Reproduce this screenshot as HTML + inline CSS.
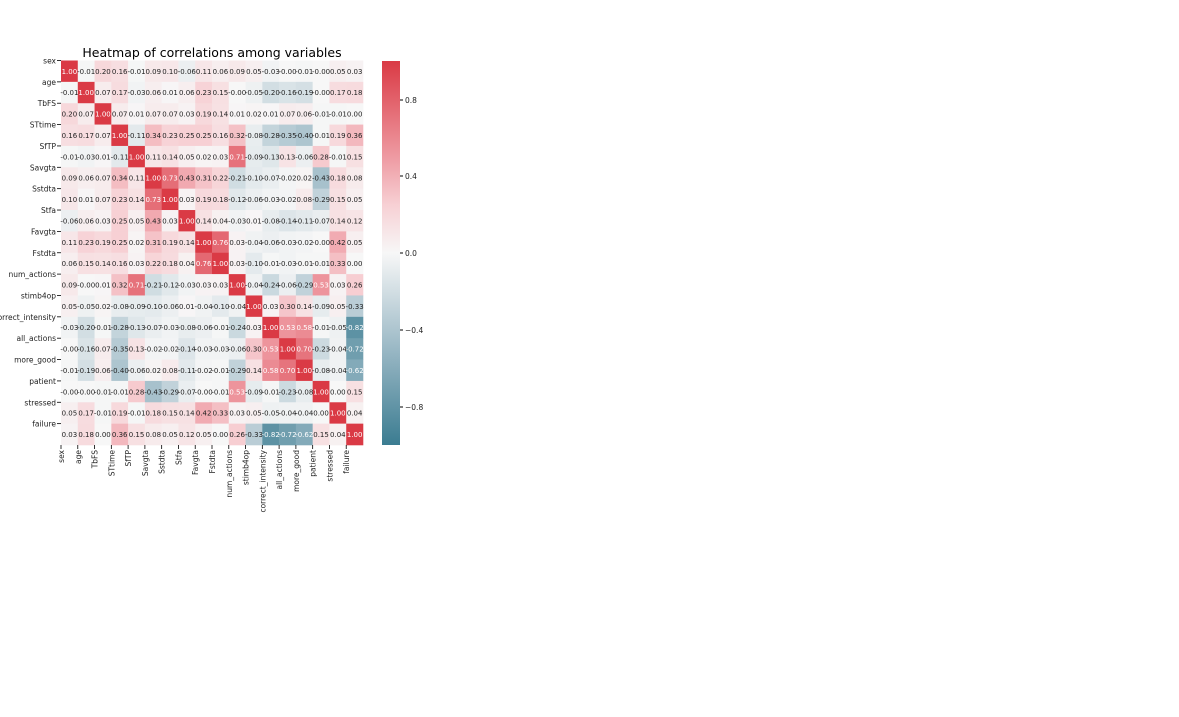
<!DOCTYPE html>
<html><head><meta charset="utf-8"><style>
html,body{margin:0;padding:0;background:#fff;width:1179px;height:717px;overflow:hidden}
svg text{font-family:"DejaVu Sans","Liberation Sans",sans-serif}
</style></head><body>
<svg id="s" width="1179" height="717" xmlns="http://www.w3.org/2000/svg">
<defs><linearGradient id="cb" x1="0" y1="1" x2="0" y2="0">
<stop offset="0" stop-color="#3b7c91"/><stop offset="0.25" stop-color="#9ab8c5"/><stop offset="0.5" stop-color="#f7f7f7"/><stop offset="0.625" stop-color="#f7d0d4"/><stop offset="0.75" stop-color="#ee9aa2"/><stop offset="1" stop-color="#da3a45"/>
</linearGradient></defs>
<text x="212" y="57" font-size="12.5" text-anchor="middle" fill="#000">Heatmap of correlations among variables</text>
<rect x="382" y="61" width="18" height="384" fill="url(#cb)"/>
<g font-size="7.5" fill="#222">
<line x1="400" y1="100" x2="403" y2="100" stroke="#000"/><text x="405" y="103">0.8</text>
<line x1="400" y1="176" x2="403" y2="176" stroke="#000"/><text x="405" y="179">0.4</text>
<line x1="400" y1="253" x2="403" y2="253" stroke="#000"/><text x="405" y="256">0.0</text>
<line x1="400" y1="330" x2="403" y2="330" stroke="#000"/><text x="405" y="333">−0.4</text>
<line x1="400" y1="407" x2="403" y2="407" stroke="#000"/><text x="405" y="410">−0.8</text>
</g>
<g id="hm"></g>
</svg>
<script>
var names=["sex","age","TbFS","STtime","SfTP","Savgta","Sstdta","Stfa","Favgta","Fstdta","num_actions","stimb4op","correct_intensity","all_actions","more_good","patient","stressed","failure"];
var M=[
[1.00,-0.01,0.20,0.16,-0.01,0.09,0.10,-0.06,0.11,0.06,0.09,0.05,-0.03,-0.00,-0.01,-0.00,0.05,0.03],
[-0.01,1.00,0.07,0.17,-0.03,0.06,0.01,0.06,0.23,0.15,-0.00,-0.05,-0.20,-0.16,-0.19,-0.00,0.17,0.18],
[0.20,0.07,1.00,0.07,0.01,0.07,0.07,0.03,0.19,0.14,0.01,0.02,0.01,0.07,0.06,-0.01,-0.01,0.00],
[0.16,0.17,0.07,1.00,-0.11,0.34,0.23,0.25,0.25,0.16,0.32,-0.08,-0.28,-0.35,-0.40,-0.01,0.19,0.36],
[-0.01,-0.03,0.01,-0.11,1.00,0.11,0.14,0.05,0.02,0.03,0.71,-0.09,-0.13,0.13,-0.06,0.28,-0.01,0.15],
[0.09,0.06,0.07,0.34,0.11,1.00,0.73,0.43,0.31,0.22,-0.21,-0.10,-0.07,-0.02,0.02,-0.43,0.18,0.08],
[0.10,0.01,0.07,0.23,0.14,0.73,1.00,0.03,0.19,0.18,-0.12,-0.06,-0.03,-0.02,0.08,-0.29,0.15,0.05],
[-0.06,0.06,0.03,0.25,0.05,0.43,0.03,1.00,0.14,0.04,-0.03,0.01,-0.08,-0.14,-0.11,-0.07,0.14,0.12],
[0.11,0.23,0.19,0.25,0.02,0.31,0.19,0.14,1.00,0.76,0.03,-0.04,-0.06,-0.03,-0.02,-0.00,0.42,0.05],
[0.06,0.15,0.14,0.16,0.03,0.22,0.18,0.04,0.76,1.00,0.03,-0.10,-0.01,-0.03,-0.01,-0.01,0.33,0.00],
[0.09,-0.00,0.01,0.32,0.71,-0.21,-0.12,-0.03,0.03,0.03,1.00,-0.04,-0.24,-0.06,-0.29,0.53,0.03,0.26],
[0.05,-0.05,0.02,-0.08,-0.09,-0.10,-0.06,0.01,-0.04,-0.10,-0.04,1.00,0.03,0.30,0.14,-0.09,0.05,-0.33],
[-0.03,-0.20,-0.01,-0.28,-0.13,-0.07,-0.03,-0.08,-0.06,-0.01,-0.24,0.03,1.00,0.53,0.58,-0.01,-0.05,-0.82],
[-0.00,-0.16,0.07,-0.35,0.13,-0.02,-0.02,-0.14,-0.03,-0.03,-0.06,0.30,0.53,1.00,0.70,-0.23,-0.04,-0.72],
[-0.01,-0.19,0.06,-0.40,-0.06,0.02,0.08,-0.11,-0.02,-0.01,-0.29,0.14,0.58,0.70,1.00,-0.08,-0.04,-0.62],
[-0.00,-0.00,-0.01,-0.01,0.28,-0.43,-0.29,-0.07,-0.00,-0.01,0.53,-0.09,-0.01,-0.23,-0.08,1.00,0.00,0.15],
[0.05,0.17,-0.01,0.19,-0.01,0.18,0.15,0.14,0.42,0.33,0.03,0.05,-0.05,-0.04,-0.04,0.00,1.00,0.04],
[0.03,0.18,0.00,0.36,0.15,0.08,0.05,0.12,0.05,0.00,0.26,-0.33,-0.82,-0.72,-0.62,0.15,0.04,1.00]];
var stops=[[-1,[59,124,145]],[-0.5,[154,184,197]],[0,[247,247,247]],[0.25,[247,208,212]],[0.5,[238,154,162]],[1,[218,58,69]]];
function col(v){for(var k=0;k<stops.length-1;k++){var a=stops[k],b=stops[k+1];if(v<=b[0]){var t=(v-a[0])/(b[0]-a[0]);var c=[0,1,2].map(function(i){return Math.round(a[1][i]+(b[1][i]-a[1][i])*t)});return "rgb("+c.join(",")+")";}}return "rgb(218,58,69)";}
var x0=61,y0=60.5,cw=302/18,rh=384.5/18,h="";
for(var i=0;i<18;i++){for(var j=0;j<18;j++){var v=M[i][j];
h+='<rect x="'+(x0+j*cw).toFixed(2)+'" y="'+(y0+i*rh).toFixed(2)+'" width="'+(cw+0.3).toFixed(2)+'" height="'+(rh+0.3).toFixed(2)+'" fill="'+col(v)+'"/>';}}
for(var i=0;i<18;i++){for(var j=0;j<18;j++){var v=M[i][j];var s=v.toFixed(2);
if(Object.is(v,-0))s="-0.00";
h+='<text x="'+(x0+(j+0.5)*cw).toFixed(2)+'" y="'+(y0+(i+0.5)*rh+2.7).toFixed(2)+'" font-size="7" text-anchor="middle" fill="'+(Math.abs(v)>0.5?"#fff":"#222")+'">'+s+'</text>';}}
for(var i=0;i<18;i++){var y=y0+i*rh;
h+='<line x1="57" y1="'+y.toFixed(2)+'" x2="61" y2="'+y.toFixed(2)+'" stroke="#000" stroke-width="0.8"/>';
h+='<text x="56" y="'+(y+3).toFixed(2)+'" font-size="7.5" text-anchor="end" fill="#222">'+names[i]+'</text>';
var x=x0+i*cw;
h+='<line x1="'+x.toFixed(2)+'" y1="445" x2="'+x.toFixed(2)+'" y2="449" stroke="#000" stroke-width="0.8"/>';
h+='<text transform="translate('+(x+3).toFixed(2)+',450) rotate(-90)" font-size="7.5" text-anchor="end" fill="#222">'+names[i]+'</text>';}
document.getElementById("hm").innerHTML=h;
</script>
</body></html>
